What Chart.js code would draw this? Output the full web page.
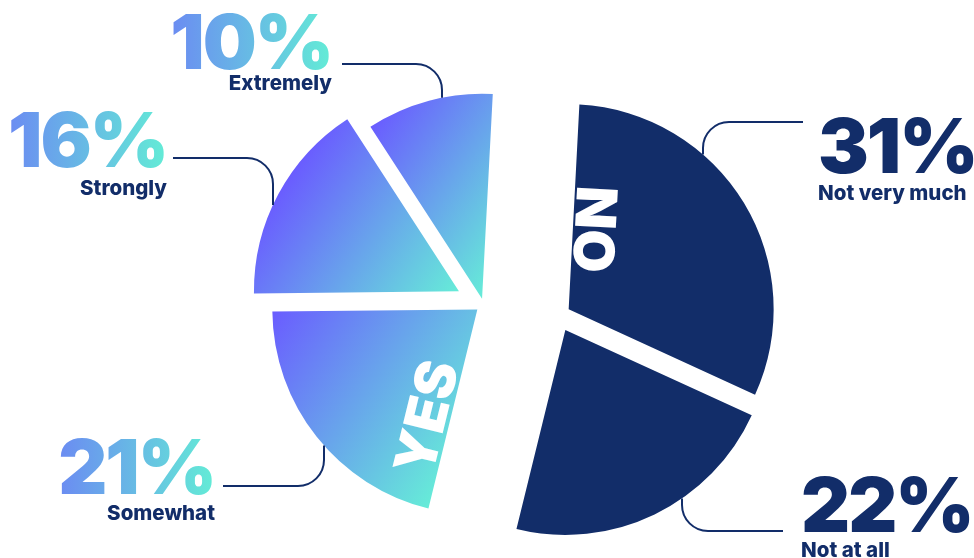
<!DOCTYPE html>
<html>
<head>
<meta charset="utf-8">
<script src="https://cdn.jsdelivr.net/npm/chart.js@4.4.0/dist/chart.umd.min.js"></script>
<style>
  html, body { margin: 0; background: #fff; }
  canvas { display: block; }
</style>
</head>
<body>
<canvas id="pie" width="974" height="558"></canvas>
<script>
// ─── DATA ─────────────────────────────────────────────────────
const CATEGORIES = ['Not very much', 'Not at all', 'Somewhat', 'Strongly', 'Extremely'];
const VALUES     = [31, 22, 21, 16, 10];
const GROUPS     = ['NO', 'NO', 'YES', 'YES', 'YES'];

// ─── STYLE ────────────────────────────────────────────────────
const NAVY           = '#122d69';
const SLICE_GRADIENT = ['#6a5cff', '#66ecd8'];
const GRADIENT_ANGLE = 35 * Math.PI / 180;  // purple upper-left -> mint lower-right
const TEXT_GRADIENT  = ['#6b8bf2', '#63ecd6'];
const PIE_RADIUS     = 205;
const GROUP_GAP      = 37.8;               // how far each YES / NO half is pulled out
const SLICE_GAP      = [12, 16, 8, 28, 6]; // extra pull per slice
const CORNER         = 26;
const PCT_FONT       = '900 76px Inter, Roboto, sans-serif';
const NAME_FONT      = '800 20.5px Inter, Roboto, sans-serif';
const GROUP_FONT     = '900 56px Inter, Roboto, sans-serif';

// label placement: text anchor, baselines, leader line (horizontal y, start x, elbow x)
const LABEL_LAYOUT = [
  { x: 818, align: 'left',  pctY: 173, nameY: 200, lineY: 122, lineX: 803, elbowX: 703 },
  { x: 801, align: 'left',  pctY: 532, nameY: 557, lineY: 531, lineX: 783, elbowX: 682 },
  { x: 215, align: 'right', pctY: 494, nameY: 520, lineY: 486, lineX: 223, elbowX: 324 },
  { x: 167, align: 'right', pctY: 167, nameY: 195, lineY: 158, lineX: 173, elbowX: 273 },
  { x: 332, align: 'right', pctY: 69,  nameY: 90,  lineY: 64,  lineX: 342, elbowX: 442 },
];
// YES / NO words sit along the first slice edge of their group
const GROUP_TEXT = { NO: { along: 81, across: 19 }, YES: { along: 117, across: 21 } };

// ─── PLUGINS ──────────────────────────────────────────────────
function groupSpans(arcs) {
  const span = {};
  arcs.forEach((a, i) => {
    const g = GROUPS[i];
    if (!span[g]) span[g] = { start: a.startAngle, end: a.endAngle, first: i };
    span[g].start = Math.min(span[g].start, a.startAngle);
    span[g].end   = Math.max(span[g].end, a.endAngle);
  });
  return span;
}

const explodePlugin = {
  id: 'explode',
  afterDatasetsUpdate(chart) {
    const arcs = chart.getDatasetMeta(0).data;
    const span = groupSpans(arcs);
    const ctx = chart.ctx;
    const ux = Math.cos(GRADIENT_ANGLE), uy = Math.sin(GRADIENT_ANGLE);
    arcs.forEach((a, i) => {
      const gm = (span[GROUPS[i]].start + span[GROUPS[i]].end) / 2;
      const sm = (a.startAngle + a.endAngle) / 2;
      a.x += Math.cos(gm) * GROUP_GAP + Math.cos(sm) * SLICE_GAP[i];
      a.y += Math.sin(gm) * GROUP_GAP + Math.sin(sm) * SLICE_GAP[i];

      if (GROUPS[i] === 'YES') {
        // extent of the sector along the gradient direction
        let pMin = a.x * ux + a.y * uy, pMax = pMin;
        for (let k = 0; k <= 40; k++) {
          const t = a.startAngle + (a.endAngle - a.startAngle) * k / 40;
          const p = (a.x + Math.cos(t) * a.outerRadius) * ux + (a.y + Math.sin(t) * a.outerRadius) * uy;
          pMin = Math.min(pMin, p);
          pMax = Math.max(pMax, p);
        }
        const grad = ctx.createLinearGradient(pMin * ux, pMin * uy, pMax * ux, pMax * uy);
        grad.addColorStop(0, SLICE_GRADIENT[0]);
        grad.addColorStop(1, SLICE_GRADIENT[1]);
        a.options.backgroundColor = grad;
      }
    });
  }
};

const labelPlugin = {
  id: 'labels',
  afterDatasetsDraw(chart) {
    const ctx  = chart.ctx;
    const arcs = chart.getDatasetMeta(0).data;

    // YES / NO words
    const span = groupSpans(arcs);
    Object.keys(span).forEach(g => {
      const a   = arcs[span[g].first];
      const ang = a.startAngle;
      const cfg = GROUP_TEXT[g];
      const cx  = a.x + Math.cos(ang) * cfg.along - Math.sin(ang) * cfg.across;
      const cy  = a.y + Math.sin(ang) * cfg.along + Math.cos(ang) * cfg.across;
      ctx.save();
      ctx.translate(cx, cy);
      ctx.rotate(ang + Math.PI);
      ctx.font = GROUP_FONT;
      ctx.fillStyle = '#fff';
      ctx.textAlign = 'center';
      ctx.textBaseline = 'middle';
      ctx.fillText(g, 0, 0);
      ctx.restore();
    });

    // leader lines and value labels
    arcs.forEach((a, i) => {
      const L = LABEL_LAYOUT[i];
      const dx = L.elbowX - a.x;
      const dy = Math.sqrt(Math.max(a.outerRadius * a.outerRadius - dx * dx, 0));
      const endY = L.lineY < a.y ? a.y - dy : a.y + dy;

      ctx.save();
      ctx.strokeStyle = NAVY;
      ctx.lineWidth = 2;
      ctx.beginPath();
      ctx.moveTo(L.lineX, L.lineY);
      ctx.arcTo(L.elbowX, L.lineY, L.elbowX, endY, CORNER);
      ctx.lineTo(L.elbowX, endY);
      ctx.stroke();

      const pct = VALUES[i] + '%';
      ctx.font = PCT_FONT;
      ctx.letterSpacing = '-2px';
      ctx.textAlign = L.align;
      ctx.textBaseline = 'alphabetic';
      const w  = ctx.measureText(pct).width;
      const gx = L.align === 'left' ? L.x : L.x - w;
      if (GROUPS[i] === 'YES') {
        const tg = ctx.createLinearGradient(gx, 0, gx + w, 0);
        tg.addColorStop(0, TEXT_GRADIENT[0]);
        tg.addColorStop(1, TEXT_GRADIENT[1]);
        ctx.fillStyle = tg;
      } else {
        ctx.fillStyle = NAVY;
      }
      ctx.fillText(pct, L.x, L.pctY);

      ctx.letterSpacing = '0px';
      ctx.font = NAME_FONT;
      ctx.fillStyle = NAVY;
      ctx.fillText(CATEGORIES[i], L.x, L.nameY);
      ctx.restore();
    });
  }
};

// ─── CHART ────────────────────────────────────────────────────
new Chart(document.getElementById('pie').getContext('2d'), {
  type: 'pie',
  data: {
    labels: CATEGORIES,
    datasets: [{
      data: VALUES,
      backgroundColor: (c) => GROUPS[c.dataIndex] === 'NO' ? NAVY : SLICE_GRADIENT[0],
      borderWidth: 0,
    }],
  },
  options: {
    responsive: false,
    animation: false,
    events: [],
    rotation: 3,
    radius: PIE_RADIUS,
    layout: { padding: { left: 68, top: 62, right: 0, bottom: 0 } },
    plugins: {
      legend: { display: false },
      tooltip: { enabled: false },
    },
  },
  plugins: [explodePlugin, labelPlugin],
});
</script>
</body>
</html>
